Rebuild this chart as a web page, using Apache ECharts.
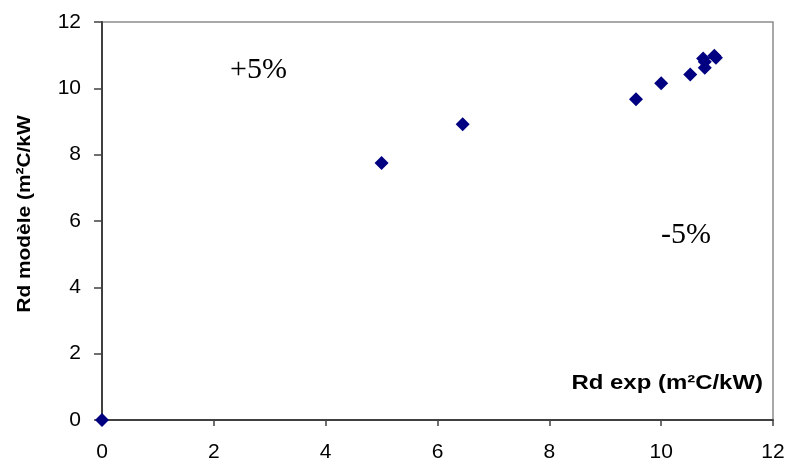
<!DOCTYPE html>
<html><head><meta charset="utf-8">
<script src="https://cdn.jsdelivr.net/npm/echarts@6/dist/echarts.min.js"></script>
<style>html,body{margin:0;padding:0;background:#fff}#c{width:789px;height:463px}</style>
</head><body><div id="c"></div>
<script>
const rdExp    = [0, 5.0, 6.45, 9.55, 10.0, 10.52, 10.78, 10.78, 10.75, 10.98, 10.95];
const rdModele = [0, 7.75, 8.92, 9.67, 10.15, 10.42, 10.62, 10.8, 10.9, 10.92, 10.98];
const xTitle = 'Rd exp (m²C/kW)';
const yTitle = 'Rd modèle (m²C/kW';
const notePlus = '+5%';
const noteMinus = '-5%';

const chart = echarts.init(document.getElementById('c'), null, {renderer: 'canvas'});
const pts = rdExp.map((x, i) => [x, rdModele[i]]);
chart.setOption({
  animation: false,
  backgroundColor: '#fff',
  grid: {left: 102, right: 16, top: 22, bottom: 42, show: true, borderColor: '#8c8c8c', borderWidth: 1.5},
  xAxis: {type: 'value', min: 0, max: 12, interval: 2,
    axisLine: {show: true, onZero: false, lineStyle: {color: '#404040', width: 2}},
    axisTick: {show: true, length: 6, lineStyle: {color: '#404040', width: 1.5}},
    axisLabel: {fontFamily: 'Liberation Sans', fontSize: 21, color: '#000', margin: 22},
    splitLine: {show: false}},
  yAxis: {type: 'value', min: 0, max: 12, interval: 2,
    axisLine: {show: true, onZero: false, lineStyle: {color: '#404040', width: 2}},
    axisTick: {show: true, length: 8, lineStyle: {color: '#404040', width: 1.5}},
    axisLabel: {fontFamily: 'Liberation Sans', fontSize: 21, color: '#000', margin: 21},
    splitLine: {show: false}},
  series: [{type: 'scatter', data: pts, symbol: 'diamond', symbolSize: 14,
    itemStyle: {color: '#000080', opacity: 1}, clip: false}],
  graphic: [
    {type: 'text', x: 230, y: 70, style: {text: notePlus, font: '30px "Liberation Serif"', fill: '#000', textVerticalAlign: 'middle'}},
    {type: 'text', x: 661, y: 235, style: {text: noteMinus, font: '30px "Liberation Serif"', fill: '#000', textVerticalAlign: 'middle'}},
    {type: 'text', x: 763, y: 383, scaleX: 1.14, style: {text: xTitle, font: 'bold 21px "Liberation Sans"', fill: '#000', textAlign: 'right', textVerticalAlign: 'middle'}},
    {type: 'text', x: 25, y: 214, rotation: Math.PI / 2, scaleX: 1.1, style: {text: yTitle, font: 'bold 19px "Liberation Sans"', fill: '#000', textAlign: 'center', textVerticalAlign: 'middle'}}
  ]
});
</script></body></html>
